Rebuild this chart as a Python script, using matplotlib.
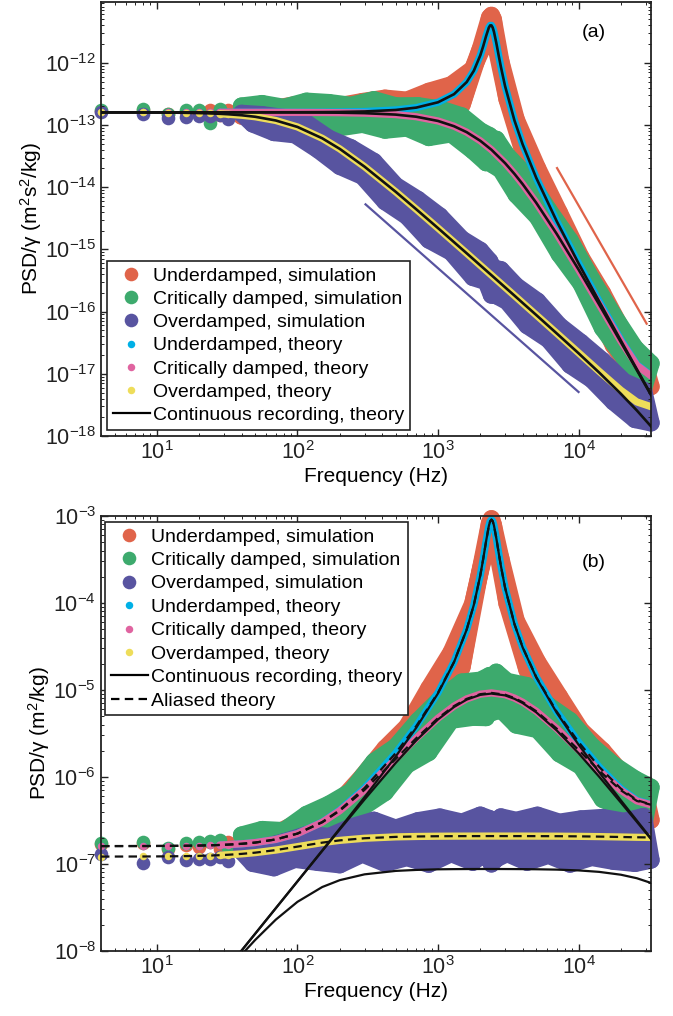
import numpy as np
import matplotlib
matplotlib.use('Agg')
import matplotlib.pyplot as plt
from matplotlib.lines import Line2D
from matplotlib.ticker import LogLocator, NullFormatter

plt.rcParams['font.family'] = ['Liberation Sans', 'DejaVu Sans']
plt.rcParams['mathtext.fontset'] = 'custom'
plt.rcParams['mathtext.rm'] = 'Liberation Sans'
plt.rcParams['mathtext.it'] = 'Liberation Sans:italic'
plt.rcParams['mathtext.default'] = 'regular'

# ---- simulation points ----
sim_f = [4, 8, 12, 16, 20, 24, 28, 32, 40, 48, 56, 68, 80, 96, 116, 140, 168, 200, 240, 290,
         350, 420, 500, 600, 720, 860, 1030, 1240, 1480, 1770, 2000, 2200, 2330, 2400, 2470, 2600,
         2800, 3100, 3600, 4300, 5100, 6100, 7300, 8700, 10400, 12400, 14800, 17700, 21100, 25200,
         29000, 32768]

# panel (a): position PSD
ud_sim_x = [1.675e-13, 1.715e-13, 1.493e-13, 1.637e-13, 1.528e-13, 1.754e-13, 1.426e-13, 1.715e-13, 1.394e-13, 1.923e-13,
            1.270e-13, 1.837e-13, 1.158e-13, 2.115e-13, 1.337e-13, 2.276e-13, 1.068e-13, 2.042e-13, 9.84e-14, 2.380e-13,
            1.267e-13, 2.695e-13, 9.60e-14, 2.505e-13, 1.214e-13, 3.473e-13, 1.646e-13, 4.419e-13, 2.104e-13, 7.99e-13,
            1.663e-12, 2.357e-12, 5.385e-12, 5.78e-12, 5.04e-12, 1.727e-12, 1.041e-12, 2.593e-13, 1.219e-13, 2.311e-14,
            2.022e-14, 3.68e-15, 3.879e-15, 5.68e-16, 7.47e-16, 1.527e-16, 1.993e-16, 2.861e-17, 4.391e-17, 9.35e-18,
            1.696e-17, 6.23e-18]
cd_sim_x = [1.754e-13, 1.795e-13, 1.528e-13, 1.715e-13, 1.754e-13, 1.058e-13, 1.837e-13, 1.459e-13, 2.014e-13, 1.394e-13,
            2.208e-13, 1.270e-13, 1.919e-13, 1.104e-13, 2.411e-13, 1.206e-13, 2.289e-13, 9.07e-14, 2.067e-13, 1.028e-13,
            2.546e-13, 8.28e-14, 2.029e-13, 8.95e-14, 2.039e-13, 6.30e-14, 1.809e-13, 7.22e-14, 1.394e-13, 3.86e-14,
            8.05e-14, 2.481e-14, 6.72e-14, 5.27e-14, 2.276e-14, 5.887e-14, 1.897e-14, 3.247e-14, 7.59e-15, 1.499e-14,
            3.319e-15, 4.353e-15, 8.37e-16, 1.390e-15, 2.830e-16, 3.313e-16, 5.43e-17, 8.83e-17, 1.818e-17, 2.607e-17,
            5.78e-18, 1.465e-17]
od_sim_x = [1.598e-13, 1.521e-13, 1.288e-13, 1.368e-13, 1.386e-13, 1.401e-13, 1.447e-13, 1.268e-13, 1.538e-13, 1.042e-13,
            1.465e-13, 7.58e-14, 1.317e-13, 6.97e-14, 1.073e-13, 4.01e-14, 6.07e-14, 2.168e-14, 4.299e-14, 1.502e-14,
            2.588e-14, 5.86e-15, 1.063e-14, 3.427e-15, 6.336e-15, 1.416e-15, 3.441e-15, 9.06e-16, 1.461e-15, 3.547e-16,
            9.63e-16, 3.034e-16, 6.48e-16, 1.844e-16, 5.02e-16, 1.810e-16, 4.714e-16, 1.461e-16, 2.586e-16, 5.99e-17,
            1.472e-16, 3.558e-17, 5.953e-17, 1.380e-17, 3.186e-17, 8.11e-18, 1.627e-17, 3.56e-18, 7.46e-18, 1.844e-18,
            5.44e-18, 1.628e-18]

# panel (b): velocity PSD
ud_sim_v = [1.681e-7, 1.725e-7, 1.506e-7, 1.658e-7, 1.557e-7, 1.799e-7, 1.475e-7, 1.790e-7, 1.486e-7, 2.105e-7,
            1.432e-7, 2.178e-7, 1.455e-7, 2.885e-7, 2.046e-7, 4.030e-7, 2.250e-7, 5.245e-7, 3.206e-7, 1.022e-6,
            7.344e-7, 2.131e-6, 1.035e-6, 3.781e-6, 2.586e-6, 1.041e-5, 7.004e-6, 2.707e-5, 1.828e-5, 9.90e-5,
            2.397e-4, 4.505e-4, 8.36e-4, 9.28e-4, 7.98e-4, 4.611e-4, 3.223e-4, 9.85e-5, 6.256e-5, 1.699e-5,
            2.102e-5, 5.521e-6, 8.434e-6, 1.784e-6, 3.439e-6, 1.036e-6, 2.015e-6, 4.410e-7, 1.033e-6, 3.358e-7,
            7.942e-7, 3.197e-7]
cd_sim_v = [1.760e-7, 1.805e-7, 1.541e-7, 1.738e-7, 1.786e-7, 1.850e-7, 1.900e-7, 1.523e-7, 2.148e-7, 1.524e-7,
            2.487e-7, 1.504e-7, 2.414e-7, 1.512e-7, 3.711e-7, 2.152e-7, 4.870e-7, 2.356e-7, 6.817e-7, 4.474e-7,
            1.498e-6, 6.651e-7, 2.224e-6, 1.373e-6, 4.416e-6, 1.918e-6, 7.831e-6, 4.497e-6, 1.232e-5, 4.865e-6,
            1.294e-5, 4.824e-6, 1.466e-5, 1.220e-5, 5.580e-6, 1.599e-5, 5.978e-6, 1.255e-5, 3.964e-6, 1.121e-5,
            3.510e-6, 6.640e-6, 1.852e-6, 4.444e-6, 1.325e-6, 2.281e-6, 5.551e-7, 1.382e-6, 4.339e-7, 9.477e-7,
            2.718e-7, 7.603e-7]
od_sim_v = [1.30e-7, 1.03e-7, 1.20e-7, 1.12e-7, 1.15e-7, 1.141e-7, 1.206e-7, 1.086e-7, 1.401e-7, 1.018e-7,
            1.546e-7, 9.06e-8, 1.795e-7, 1.134e-7, 2.173e-7, 1.044e-7, 2.073e-7, 9.81e-8, 2.656e-7, 1.303e-7,
            3.180e-7, 1.018e-7, 2.580e-7, 1.186e-7, 3.139e-7, 9.96e-8, 3.461e-7, 1.318e-7, 3.023e-7, 1.048e-7,
            3.638e-7, 1.383e-7, 3.317e-7, 1.003e-7, 2.888e-7, 1.151e-7, 3.474e-7, 1.321e-7, 3.169e-7, 1.049e-7,
            3.634e-7, 1.261e-7, 3.017e-7, 9.98e-8, 3.292e-7, 1.191e-7, 3.421e-7, 1.076e-7, 3.089e-7, 1.017e-7,
            3.511e-7, 1.110e-7]

# ---- theory curves ----
f_th = [4, 8, 12, 16, 20, 24, 28, 32, 40, 50, 70, 100, 150, 200, 300, 500, 700, 1000, 1300, 1600,
        2000, 2400, 3000, 3500, 4000, 5000, 7000, 10000, 14000, 20000, 26000, 32768]
f_ud = [4, 8, 12, 16, 20, 24, 28, 32, 40, 50, 70, 100, 150, 200, 300, 500, 700, 1000, 1300, 1600,
        1800, 2000, 2100, 2200, 2300, 2350, 2400, 2450, 2500, 2600, 2700, 2800, 3000, 3500, 4000, 5000,
        7000, 10000, 14000, 20000, 26000, 32768]

ud_th_x = [1.600e-13, 1.600e-13, 1.600e-13, 1.600e-13, 1.600e-13, 1.600e-13, 1.600e-13, 1.600e-13, 1.600e-13, 1.601e-13,
           1.603e-13, 1.6055e-13, 1.612e-13, 1.622e-13, 1.650e-13, 1.745e-13, 1.904e-13, 2.319e-13, 3.131e-13, 4.902e-13,
           7.48e-13, 1.321e-12, 1.870e-12, 2.706e-12, 3.687e-12, 3.995e-12, 4.000e-12, 3.682e-12, 3.160e-12, 2.076e-12,
           1.320e-12, 8.66e-13, 4.223e-13, 1.181e-13, 4.891e-14, 1.412e-14, 2.822e-15, 5.968e-16, 1.473e-16, 3.547e-17,
           1.410e-17, 9.43e-18]
ud_cont_x = [1.600e-13, 1.600e-13, 1.600e-13, 1.600e-13, 1.600e-13, 1.600e-13, 1.600e-13, 1.600e-13, 1.600e-13, 1.601e-13,
             1.603e-13, 1.6055e-13, 1.612e-13, 1.622e-13, 1.650e-13, 1.745e-13, 1.904e-13, 2.319e-13, 3.131e-13, 4.902e-13,
             7.48e-13, 1.321e-12, 1.870e-12, 2.706e-12, 3.687e-12, 3.995e-12, 4.000e-12, 3.682e-12, 3.160e-12, 2.076e-12,
             1.320e-12, 8.66e-13, 4.223e-13, 1.181e-13, 4.891e-14, 1.412e-14, 2.822e-15, 5.962e-16, 1.465e-16, 3.413e-17,
             1.181e-17, 4.653e-18]
cd_th_x = [1.600e-13, 1.600e-13, 1.600e-13, 1.600e-13, 1.600e-13, 1.600e-13, 1.600e-13, 1.600e-13, 1.600e-13, 1.599e-13,
           1.597e-13, 1.594e-13, 1.588e-13, 1.578e-13, 1.551e-13, 1.470e-13, 1.359e-13, 1.162e-13, 9.56e-14, 7.67e-14,
           5.57e-14, 4.00e-14, 2.44e-14, 1.637e-14, 1.121e-14, 5.61e-15, 1.770e-15, 4.756e-16, 1.312e-16, 3.355e-17,
           1.371e-17, 9.24e-18]
cd_cont_x = [1.600e-13, 1.600e-13, 1.600e-13, 1.600e-13, 1.600e-13, 1.600e-13, 1.600e-13, 1.600e-13, 1.600e-13, 1.599e-13,
             1.597e-13, 1.594e-13, 1.588e-13, 1.578e-13, 1.551e-13, 1.470e-13, 1.359e-13, 1.162e-13, 9.56e-14, 7.67e-14,
             5.57e-14, 4.00e-14, 2.44e-14, 1.637e-14, 1.121e-14, 5.61e-15, 1.770e-15, 4.75e-16, 1.304e-16, 3.22e-17,
             1.142e-17, 4.56e-18]
od_th_x = [1.598e-13, 1.593e-13, 1.584e-13, 1.571e-13, 1.555e-13, 1.536e-13, 1.515e-13, 1.490e-13, 1.435e-13, 1.357e-13,
           1.183e-13, 9.31e-14, 6.12e-14, 4.13e-14, 2.14e-14, 8.44e-15, 4.42e-15, 2.20e-15, 1.307e-15, 8.66e-16,
           5.54e-16, 3.85e-16, 2.46e-16, 1.807e-16, 1.38e-16, 8.82e-17, 4.48e-17, 2.18e-17, 1.10e-17, 5.44e-18,
           3.53e-18, 2.96e-18]
od_cont_x = [1.598e-13, 1.593e-13, 1.584e-13, 1.571e-13, 1.555e-13, 1.536e-13, 1.515e-13, 1.490e-13, 1.435e-13, 1.357e-13,
             1.183e-13, 9.31e-14, 6.12e-14, 4.13e-14, 2.14e-14, 8.44e-15, 4.42e-15, 2.20e-15, 1.307e-15, 8.66e-16,
             5.54e-16, 3.85e-16, 2.46e-16, 1.807e-16, 1.38e-16, 8.82e-17, 4.45e-17, 2.14e-17, 1.05e-17, 4.77e-18,
             2.57e-18, 1.43e-18]

ud_th_v = [1.606e-7, 1.609e-7, 1.614e-7, 1.621e-7, 1.630e-7, 1.641e-7, 1.655e-7, 1.670e-7, 1.706e-7, 1.763e-7,
           1.916e-7, 2.239e-7, 3.037e-7, 4.166e-7, 7.468e-7, 1.883e-6, 3.844e-6, 9.316e-6, 2.105e-5, 4.970e-5,
           9.584e-5, 2.088e-4, 3.258e-4, 5.173e-4, 7.702e-4, 8.712e-4, 9.098e-4, 8.727e-4, 7.799e-4, 5.542e-4,
           3.801e-4, 2.682e-4, 1.502e-4, 5.727e-5, 3.105e-5, 1.410e-5, 5.623e-6, 2.522e-6, 1.310e-6, 7.343e-7,
           5.413e-7, 4.836e-7]
ud_cont_v = [1.011e-10, 4.04e-10, 9.10e-10, 1.617e-9, 2.527e-9, 3.638e-9, 4.952e-9, 6.468e-9, 1.011e-8, 1.580e-8,
             3.101e-8, 6.338e-8, 1.432e-7, 2.561e-7, 5.863e-7, 1.722e-6, 3.683e-6, 9.155e-6, 2.089e-5, 4.954e-5,
             9.568e-5, 2.086e-4, 3.256e-4, 5.171e-4, 7.700e-4, 8.710e-4, 9.096e-4, 8.725e-4, 7.797e-4, 5.540e-4,
             3.799e-4, 2.680e-4, 1.501e-4, 5.711e-5, 3.089e-5, 1.394e-5, 5.459e-6, 2.354e-6, 1.134e-6, 5.390e-7,
             3.153e-7, 1.972e-7]
cd_th_v = [1.606e-7, 1.609e-7, 1.614e-7, 1.621e-7, 1.630e-7, 1.641e-7, 1.655e-7, 1.670e-7, 1.706e-7, 1.763e-7,
           1.914e-7, 2.234e-7, 3.015e-7, 4.097e-7, 7.116e-7, 1.611e-6, 2.790e-6, 4.748e-6, 6.539e-6, 7.913e-6,
           8.957e-6, 9.257e-6, 8.831e-6, 8.078e-6, 7.243e-6, 5.699e-6, 3.588e-6, 2.043e-6, 1.185e-6, 7.038e-7,
           5.308e-7, 4.797e-7]
cd_cont_v = [1.011e-10, 4.04e-10, 9.10e-10, 1.617e-9, 2.527e-9, 3.638e-9, 4.952e-9, 6.468e-9, 1.011e-8, 1.578e-8,
             3.090e-8, 6.293e-8, 1.410e-7, 2.492e-7, 5.511e-7, 1.451e-6, 2.629e-6, 4.587e-6, 6.378e-6, 7.752e-6,
             8.796e-6, 9.096e-6, 8.670e-6, 7.917e-6, 7.081e-6, 5.537e-6, 3.424e-6, 1.875e-6, 1.009e-6, 5.085e-7,
             3.048e-7, 1.933e-7]
od_th_v = [1.217e-7, 1.220e-7, 1.225e-7, 1.232e-7, 1.241e-7, 1.251e-7, 1.263e-7, 1.277e-7, 1.307e-7, 1.350e-7,
           1.445e-7, 1.584e-7, 1.760e-7, 1.869e-7, 1.977e-7, 2.050e-7, 2.072e-7, 2.086e-7, 2.090e-7, 2.092e-7,
           2.093e-7, 2.094e-7, 2.093e-7, 2.093e-7, 2.093e-7, 2.091e-7, 2.088e-7, 2.079e-7, 2.065e-7, 2.044e-7,
           2.028e-7, 2.019e-7]
od_cont_v = [1.009e-10, 4.02e-10, 9.01e-10, 1.588e-9, 2.456e-9, 3.493e-9, 4.688e-9, 6.025e-9, 9.064e-9, 1.339e-8,
             2.288e-8, 3.675e-8, 5.436e-8, 6.522e-8, 7.604e-8, 8.330e-8, 8.550e-8, 8.69e-8, 8.73e-8, 8.75e-8,
             8.76e-8, 8.76e-8, 8.75e-8, 8.74e-8, 8.73e-8, 8.70e-8, 8.62e-8, 8.44e-8, 8.12e-8, 7.53e-8,
             6.86e-8, 6.06e-8]

# guide lines in (a): slopes -2 and -4
slope2_f = [305, 10000]
slope2_s = [5.3e-15, 5.1e-18]
slope4_f = [7030, 30500]
slope4_s = [2.03e-14, 6.4e-17]

C_UD, C_CD, C_OD = '#E0644A', '#3DAA6D', '#5854A0'
C_UDT, C_CDT, C_ODT = '#00B0E6', '#E064A0', '#EEDD5A'

MS_SIM, MS_TH = 9.8, 5.4
FS_TICK, FS_LAB, FS_LEG = 15.5, 15, 14


def draw_sim(ax, f, s, color):
    # dense scatter of periodogram points: trace through every point and
    # along the upper / lower halves so the cloud reads as one band
    f = np.asarray(f)
    s = np.asarray(s)
    m = f >= 36
    fm, sm = f[m], s[m]
    kw = dict(color=color, lw=12.5, solid_capstyle='round', solid_joinstyle='round',
              clip_on=False, zorder=1)
    ax.plot(fm, sm, '-', **kw)
    ax.plot(fm[::2], sm[::2], '-', **kw)
    ax.plot(fm[1::2], sm[1::2], '-', **kw)
    ax.plot(f, s, 'o', ms=MS_SIM, color=color, mec='none', clip_on=False, zorder=1)


def draw_theory(ax, f, s, color):
    f = np.asarray(f)
    s = np.asarray(s)
    m = f >= 28
    ax.plot(f[m], s[m], '-', color=color, lw=5.2, solid_capstyle='round', zorder=2)
    ax.plot(f[f <= 32], s[f <= 32], 'o', ms=MS_TH, color=color, mec='none',
            clip_on=False, zorder=2)


def style_axes(ax, ylo, yhi):
    ax.set_xscale('log')
    ax.set_yscale('log')
    ax.set_xlim(4, 32768)
    ax.set_ylim(ylo, yhi)
    for a in (ax.xaxis, ax.yaxis):
        a.set_major_locator(LogLocator(base=10, numticks=20))
        a.set_minor_locator(LogLocator(base=10, subs=np.arange(2, 10), numticks=20))
        a.set_minor_formatter(NullFormatter())
    ax.tick_params(which='both', direction='in', top=True, right=True,
                   labelsize=FS_TICK, colors='#222222')
    ax.tick_params(which='major', length=5, width=1.0)
    ax.tick_params(which='minor', length=2.5, width=0.7)
    for sp in ax.spines.values():
        sp.set_linewidth(1.3)
        sp.set_color('#222222')
    ax.set_xlabel('Frequency (Hz)', fontsize=FS_LAB, labelpad=2)


def legend_handles(aliased):
    h = [Line2D([], [], ls='none', marker='o', ms=MS_SIM, color=C_UD, mec='none', label='Underdamped, simulation'),
         Line2D([], [], ls='none', marker='o', ms=MS_SIM, color=C_CD, mec='none', label='Critically damped, simulation'),
         Line2D([], [], ls='none', marker='o', ms=MS_SIM, color=C_OD, mec='none', label='Overdamped, simulation'),
         Line2D([], [], ls='none', marker='o', ms=MS_TH, color=C_UDT, mec='none', label='Underdamped, theory'),
         Line2D([], [], ls='none', marker='o', ms=MS_TH, color=C_CDT, mec='none', label='Critically damped, theory'),
         Line2D([], [], ls='none', marker='o', ms=MS_TH, color=C_ODT, mec='none', label='Overdamped, theory'),
         Line2D([], [], color='k', lw=1.6, label='Continuous recording, theory')]
    if aliased:
        h.append(Line2D([], [], color='k', lw=1.6, dashes=(3.8, 2.4), label='Aliased theory'))
    return h


fig = plt.figure(figsize=(6.73, 10.16), dpi=100)
ax1 = fig.add_axes([101 / 673, 1 - 436 / 1016, 550 / 673, 434 / 1016])
ax2 = fig.add_axes([101 / 673, 1 - 951 / 1016, 550 / 673, 435 / 1016])

# (a) position
draw_sim(ax1, sim_f, ud_sim_x, C_UD)
draw_sim(ax1, sim_f, cd_sim_x, C_CD)
draw_sim(ax1, sim_f, od_sim_x, C_OD)
draw_theory(ax1, f_ud, ud_th_x, C_UDT)
draw_theory(ax1, f_th, cd_th_x, C_CDT)
draw_theory(ax1, f_th, od_th_x, C_ODT)
for f, s in ((f_ud, ud_cont_x), (f_th, cd_cont_x), (f_th, od_cont_x)):
    ax1.plot(f, s, '-', color='#111111', lw=1.9, zorder=3)
ax1.plot(slope2_f, slope2_s, '-', color=C_OD, lw=1.6, zorder=2)
ax1.plot(slope4_f, slope4_s, '-', color=C_UD, lw=1.6, zorder=2)
style_axes(ax1, 1e-18, 9.5e-12)
ax1.set_ylabel('PSD/$\\gamma$ (m$^2$s$^2$/kg)', fontsize=FS_LAB, labelpad=1)
ax1.text(0.896, 0.929, '(a)', transform=ax1.transAxes, fontsize=FS_LEG,
         ha='center', va='center')
leg1 = ax1.legend(handles=legend_handles(False), loc='lower left',
                  bbox_to_anchor=(0.011, 0.014), borderaxespad=0, fontsize=FS_LEG,
                  frameon=True, fancybox=False, edgecolor='#222222', framealpha=1,
                  handlelength=1.9, handletextpad=0.15, labelspacing=0.29,
                  borderpad=0.3)
leg1.get_frame().set_linewidth(1.2)

# (b) velocity
draw_sim(ax2, sim_f, ud_sim_v, C_UD)
draw_sim(ax2, sim_f, cd_sim_v, C_CD)
draw_sim(ax2, sim_f, od_sim_v, C_OD)
draw_theory(ax2, f_ud, ud_th_v, C_UDT)
draw_theory(ax2, f_th, cd_th_v, C_CDT)
draw_theory(ax2, f_th, od_th_v, C_ODT)
for f, s in ((f_ud, ud_cont_v), (f_th, cd_cont_v), (f_th, od_cont_v)):
    ax2.plot(f, s, '-', color='#111111', lw=1.6, zorder=3)
for f, s in ((f_ud, ud_th_v), (f_th, cd_th_v), (f_th, od_th_v)):
    ax2.plot(f, s, color='#111111', lw=1.6, dashes=(3.8, 2.4), zorder=4)
style_axes(ax2, 1e-8, 1e-3)
ax2.set_ylabel('PSD/$\\gamma$ (m$^2$/kg)', fontsize=FS_LAB, labelpad=1)
ax2.text(0.896, 0.894, '(b)', transform=ax2.transAxes, fontsize=FS_LEG,
         ha='center', va='center')
leg2 = ax2.legend(handles=legend_handles(True), loc='upper left',
                  bbox_to_anchor=(0.007, 0.986), borderaxespad=0, fontsize=FS_LEG,
                  frameon=True, fancybox=False, edgecolor='#222222', framealpha=1,
                  handlelength=1.9, handletextpad=0.15, labelspacing=0.30,
                  borderpad=0.3)
leg2.get_frame().set_linewidth(1.2)

fig.savefig('out.png', dpi=100)
